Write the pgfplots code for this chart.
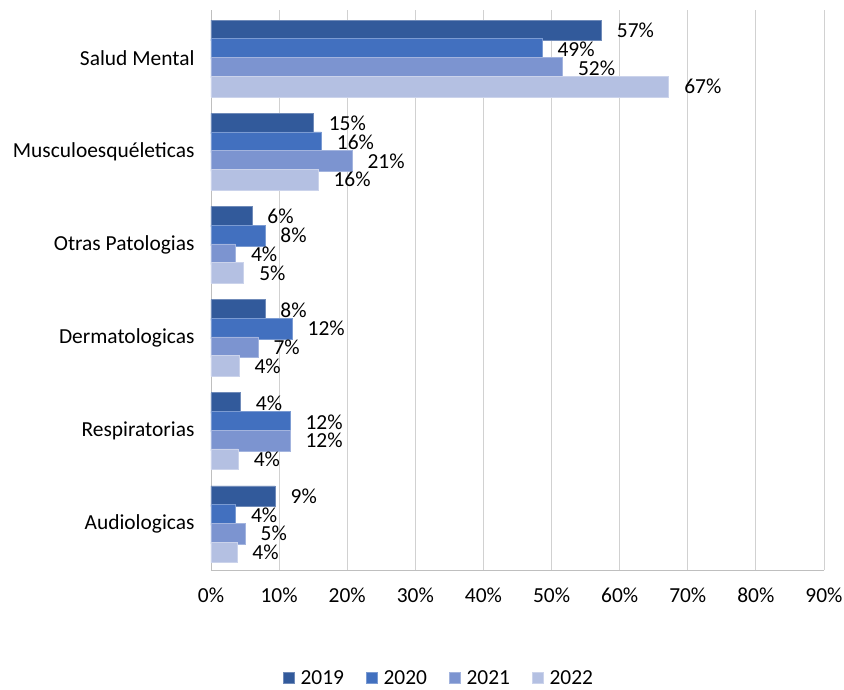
\documentclass[border=0pt]{standalone}
\usepackage{fontspec}
\setmainfont{Carlito}
\usepackage{pgfplots}
\pgfplotsset{compat=1.18}

\definecolor{c19}{HTML}{325A9B}
\definecolor{c20}{HTML}{4270BF}
\definecolor{c21}{HTML}{7C94D0}
\definecolor{c22}{HTML}{B4C0E2}

\begin{document}
\begin{tikzpicture}
\begin{axis}[name=ax,
  scale only axis, width=613bp, height=560bp,
  font=\fontsize{21.5}{25}\selectfont,
  xbar, bar width=0.222, bar shift auto,
  y dir=reverse,
  xmin=0, xmax=90, ymin=-0.52, ymax=5.49,
  xtick={0,10,...,90},
  xticklabel={\pgfmathprintnumber{\tick}\%},
  /pgf/number format/assume math mode=true,
  ytick={0,...,5},
  yticklabels={Salud Mental, Musculoesquéleticas, Otras Patologias, Dermatologicas, Respiratorias, Audiologicas},
  xticklabel style={yshift=-14bp},
  yticklabel style={xshift=-13bp},
  major tick length=0pt,
  axis x line*=bottom, axis y line*=left,
  axis line style={draw=black!25, line width=0.8bp},
  xmajorgrids, grid style={draw=black!18, line width=0.8bp},
  point meta=x,
  nodes near coords={\pgfmathprintnumber[fixed,precision=0]{\pgfplotspointmeta}\%},
  nodes near coords style={anchor=west, xshift=12bp, text=black},
  every axis plot/.append style={line width=0.6bp},
  legend columns=4,
  legend style={at={(rel axis cs:0.372,-0.193)}, anchor=center, draw=none, fill=none,
    /tikz/every even column/.append style={column sep=20bp}},
  legend image code/.code={\fill[#1] (0bp,-5.5bp) rectangle (11bp,5.5bp); \path (15bp,0bp);},
]
\addplot[fill=c19, draw=c19!70!white] coordinates {(57.3,0) (15.0,1) (6.0,2) (7.9,3) (4.3,4) (9.4,5)};
\addplot[fill=c20, draw=c20!70!white] coordinates {(48.6,0) (16.2,1) (7.9,2) (11.9,3) (11.6,4) (3.6,5)};
\addplot[fill=c21, draw=c21!70!white] coordinates {(51.6,0) (20.7,1) (3.6,2) (6.9,3) (11.6,4) (5.0,5)};
\addplot[fill=c22, draw=c22!70!white] coordinates {(67.2,0) (15.7,1) (4.8,2) (4.1,3) (4.0,4) (3.8,5)};
\legend{2019, 2020, 2021, 2022}
\end{axis}
\pgfresetboundingbox
\path[use as bounding box] ([shift={(-211bp,-120bp)}]ax.south west) rectangle ([shift={(633bp,570bp)}]ax.south west);
\end{tikzpicture}
\end{document}
